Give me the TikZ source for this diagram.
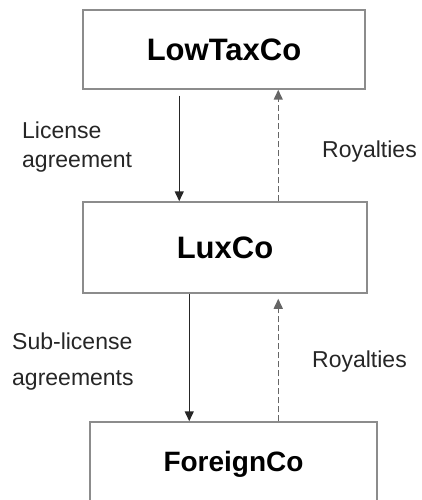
\documentclass[tikz,border=0pt]{standalone}
\usepackage{fontspec}
\setmainfont{Liberation Sans}
\usetikzlibrary{arrows.meta,calc}
\tikzset{
  company/.style={draw=black!45, line width=1.5pt, font=\bfseries, inner sep=0pt},
  lbl/.style={font=\fontsize{23}{29}\selectfont, align=left, inner sep=0pt, text=black!85},
  solidarr/.style={draw=black!85, line width=1.5pt, -{Triangle[length=10pt,width=9pt]}},
  dasharr/.style={draw=black!60, line width=1.5pt, dash pattern=on 6pt off 3pt, -{Triangle[length=10pt,width=9pt]}}
}
\begin{document}
\begin{tikzpicture}[x=1pt,y=-1pt]
\clip (0,0) rectangle (422,500);
\useasboundingbox (0,0) rectangle (422,500);
\fill[white] (0,0) rectangle (422,500);
\node[company, minimum width=282pt, minimum height=79pt, font=\bfseries\fontsize{31}{36}\selectfont] (low) at (224,49.5) {LowTaxCo};
\node[company, minimum width=284pt, minimum height=91pt, font=\bfseries\fontsize{31}{36}\selectfont] (lux) at (225,247.5) {LuxCo};
\node[company, minimum width=287pt, minimum height=84pt, font=\bfseries\fontsize{28}{32}\selectfont] (foreign) at (233.5,464) {ForeignCo};
\draw[solidarr] ($(low.south west)+(97,6)$) -- ($(lux.north west)+(97,0)$);
\draw[dasharr] ($(lux.north west)+(196,0)$) -- ($(low.south west)+(196,0)$);
\draw[solidarr] ($(lux.south west)+(107,0)$) -- ($(foreign.north west)+(100,0)$);
\draw[dasharr] ($(foreign.north west)+(189,0)$) -- ($(lux.south west)+(196,5)$);
\node[lbl, anchor=west] (l1) at (22,147) {License\\agreement};
\node[lbl, anchor=west] (r1) at (322,152) {Royalties};
\node[lbl, anchor=west, font=\fontsize{23}{36}\selectfont] (l2) at (12,362) {Sub-license\\agreements};
\node[lbl, anchor=west] (r2) at (312,362) {Royalties};
\end{tikzpicture}
\end{document}
